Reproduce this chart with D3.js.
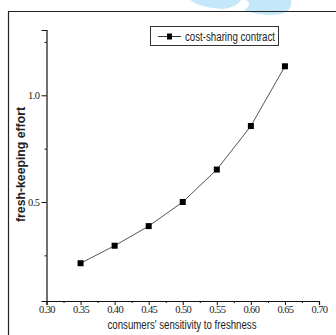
<!DOCTYPE html>
<html>
<head>
<meta charset="utf-8">
<script src="https://cdn.jsdelivr.net/npm/d3@7"></script>
<style>
  html, body { margin: 0; padding: 0; background: #fff; }
  svg { display: block; }
</style>
</head>
<body>
<svg id="chart" width="336" height="335"></svg>
<script>
// Consumers' sensitivity to freshness vs. fresh-keeping effort
const sensitivity = [0.35, 0.40, 0.45, 0.50, 0.55, 0.60, 0.65];
const effort = [0.213, 0.295, 0.387, 0.500, 0.652, 0.856, 1.136];
const seriesName = "cost-sharing contract";

const xMajor = [0.30, 0.35, 0.40, 0.45, 0.50, 0.55, 0.60, 0.65, 0.70];
const xMinor = [0.325, 0.375, 0.425, 0.475, 0.525, 0.575, 0.625, 0.675];
const yMajor = [0.5, 1.0];
const yMinor = [0.25, 0.75, 1.25];

const svg = d3.select("#chart");

// faint logo mark at the top of the page
const logo = svg.append("g").attr("fill", "#c4e7f9");
logo.append("path").attr("d", "M190,0 L241,0 Q236,8 222,9 Q201,8 190,0 Z");
logo.append("path").attr("d", "M246,0 L291,0 Q293,10 281,14 Q262,17 244,10 Q253,5 246,0 Z");

// outer frame (left and top edges)
svg.append("path")
  .attr("d", "M8.5,335 V11.5 H336")
  .attr("fill", "none")
  .attr("stroke", "#222")
  .attr("stroke-width", 1.2);

const x = d3.scaleLinear().domain([0.30, 0.70]).range([46.5, 319]);
const y = d3.scaleLinear().domain([0.036, 1.306]).range([301, 30]);

const tickFont = "'Liberation Serif', 'DejaVu Serif', serif";

// x axis
const xAxis = svg.append("g").attr("transform", "translate(0,301)");
xAxis.call(d3.axisBottom(x).tickValues(xMajor).tickSize(4).tickPadding(1)
  .tickFormat(d3.format(".2f")));
xAxis.append("g").call(d3.axisBottom(x).tickValues(xMinor).tickSize(2).tickFormat(""))
  .select(".domain").remove();
xAxis.selectAll("path.domain").attr("stroke", "#111").attr("stroke-width", 1.2);
xAxis.selectAll(".tick line").attr("stroke", "#111");
xAxis.selectAll(".tick text")
  .attr("font-family", tickFont).attr("font-size", 10.5)
  .attr("letter-spacing", "-0.6px").attr("fill", "#222");

// y axis
const yAxis = svg.append("g").attr("transform", "translate(46.5,0)");
yAxis.call(d3.axisLeft(y).tickValues(yMajor).tickSize(5).tickPadding(2)
  .tickFormat(d3.format(".1f")));
yAxis.append("g").call(d3.axisLeft(y).tickValues(yMinor).tickSize(2).tickFormat(""))
  .select(".domain").remove();
yAxis.selectAll("path.domain").attr("stroke", "#111").attr("stroke-width", 1.2);
yAxis.selectAll(".tick line").attr("stroke", "#111");
yAxis.selectAll(".tick text")
  .attr("font-family", tickFont).attr("font-size", 10.5)
  .attr("letter-spacing", "-0.5px").attr("fill", "#222");

// series line and markers
const pts = sensitivity.map((s, i) => [s, effort[i]]);
svg.append("path")
  .datum(pts)
  .attr("fill", "none")
  .attr("stroke", "#555")
  .attr("stroke-width", 1)
  .attr("d", d3.line().x(d => x(d[0])).y(d => y(d[1])));

svg.append("g").selectAll("rect")
  .data(pts)
  .join("rect")
  .attr("x", d => x(d[0]) - 3)
  .attr("y", d => y(d[1]) - 3)
  .attr("width", 6)
  .attr("height", 6)
  .attr("fill", "#000");

// legend
const legend = svg.append("g");
legend.append("rect")
  .attr("x", 150.5).attr("y", 26.5).attr("width", 128).attr("height", 19)
  .attr("fill", "#fff").attr("stroke", "#333").attr("stroke-width", 1);
legend.append("line")
  .attr("x1", 158).attr("x2", 181).attr("y1", 36.5).attr("y2", 36.5)
  .attr("stroke", "#333").attr("stroke-width", 1);
legend.append("rect")
  .attr("x", 167).attr("y", 33.5).attr("width", 5).attr("height", 6).attr("fill", "#000");
legend.append("text")
  .attr("x", 185).attr("y", 40.5)
  .attr("font-family", "'Liberation Sans', Arial, sans-serif")
  .attr("font-size", 12)
  .attr("textLength", 90).attr("lengthAdjust", "spacingAndGlyphs")
  .attr("fill", "#222")
  .text(seriesName);

// axis titles
svg.append("text")
  .attr("x", 182).attr("y", 329)
  .attr("text-anchor", "middle")
  .attr("font-family", "'Liberation Sans', Arial, sans-serif")
  .attr("font-size", 12)
  .attr("textLength", 149).attr("lengthAdjust", "spacingAndGlyphs")
  .attr("fill", "#222")
  .text("consumers' sensitivity to freshness");

svg.append("text")
  .attr("transform", "translate(25,164.5) rotate(-90)")
  .attr("text-anchor", "middle")
  .attr("font-family", "'Liberation Sans', Arial, sans-serif")
  .attr("font-size", 12)
  .attr("font-weight", "bold")
  .attr("textLength", 115).attr("lengthAdjust", "spacingAndGlyphs")
  .attr("fill", "#222")
  .text("fresh-keeping effort");
</script>
</body>
</html>
